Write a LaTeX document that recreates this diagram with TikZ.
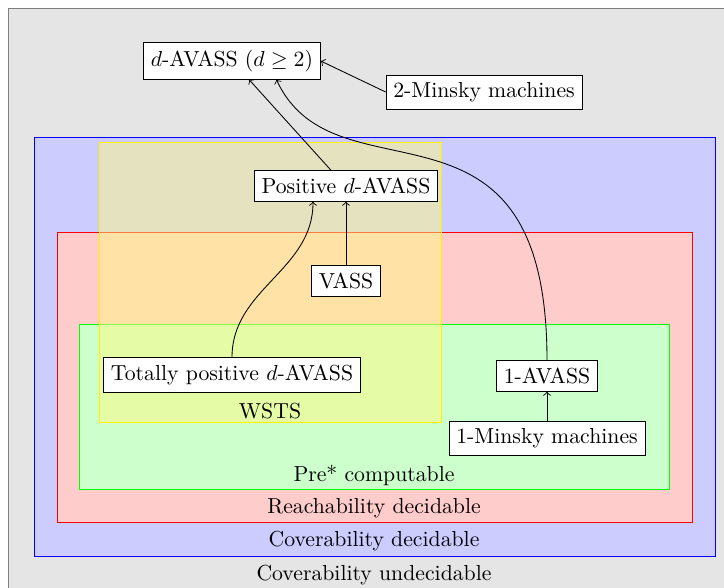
\documentclass[tikz,border=0pt]{standalone}
\usetikzlibrary{calc}
\tikzset{
  box/.style={draw, fill=white},
  lbl/.style={inner sep=1pt},
  region/.style={line width=0.4pt},
}
\begin{document}
\begin{tikzpicture}[x=0.46pt,y=-0.46pt]
\useasboundingbox (0,0) rectangle (724,588);
% regions
\draw[region, draw=gray, fill=gray!20] (8,8) rectangle (760,620);
\draw[region, draw=blue, fill=blue!20] (34,137) rectangle (715,556);
\draw[region, draw=red, fill=red!20] (57,232) rectangle (692,522);
\draw[region, draw=green, fill=green!20] (79,324) rectangle (669,489);
\draw[region, draw=yellow, fill=yellow!50, fill opacity=0.5] (99,142) rectangle (441,422);
% region labels
\node[lbl] (wsts) at (270,411) {WSTS};
\node[lbl] (pre) at (374,475) {Pre* computable};
\node[lbl] (reach) at (374,508) {Reachability decidable};
\node[lbl] (covd) at (374,541) {Coverability decidable};
\node[lbl] (covu) at (374,575) {Coverability undecidable};
% nodes
\node[box] (dav) at (232,61) {$d$-AVASS ($d \geq 2$)};
\node[box] (mink2) at (484,92) {2-Minsky machines};
\node[box] (pos) at (346,186) {Positive $d$-AVASS};
\node[box] (vass) at (346,281) {VASS};
\node[box] (tp) at (232,375) {Totally positive $d$-AVASS};
\node[box] (a1) at (547,376) {1-AVASS};
\node[box] (mink1) at (547,438) {1-Minsky machines};
% connectors
\draw[->] ($(pos.north)+(-15,0)$) -- ($(dav.south)+(17,0)$);
\draw[->] (mink2.west) -- (dav.east);
\draw[->] (vass.north) -- (vass.north |- pos.south);
\draw[->] (tp.north) to[out=90,in=-90] ($(pos.south)+(-33,0)$);
\draw[->] (mink1.north) -- (a1.south);
\draw[->] (a1.north) .. controls (547,72) and (336,208) .. ($(dav.south)!0.5!(dav.south east)$);
\end{tikzpicture}
\end{document}
